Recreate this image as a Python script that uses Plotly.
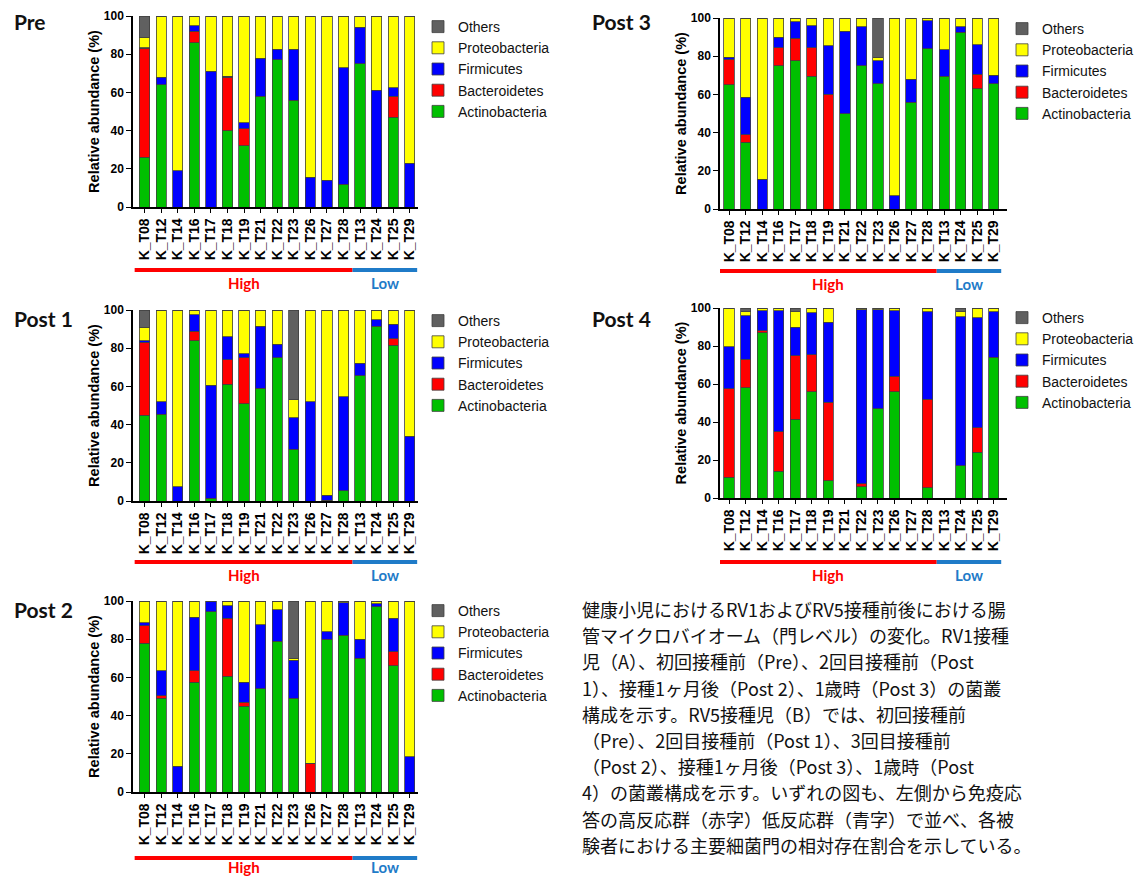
import plotly.graph_objects as go

# window and page offset (default body margin of the html page)
WIN_W, WIN_H = 1147, 878
OX, OY = 8, 8
FW, FH = WIN_W - OX, WIN_H - OY


def px(x):
    return (x - OX) / FW


def py(y):
    return 1 - (y - OY) / FH


subjects = ["K_T08", "K_T12", "K_T14", "K_T16", "K_T17", "K_T18", "K_T19", "K_T21",
            "K_T22", "K_T23", "K_T26", "K_T27", "K_T28", "K_T13", "K_T24", "K_T25", "K_T29"]
phyla = ["Actinobacteria", "Bacteroidetes", "Firmicutes", "Proteobacteria", "Others"]
phylum_colors = ["#00C000", "#FF0000", "#0000FF", "#FFFF00", "#606060"]
panel_names = ["Pre", "Post 1", "Post 2", "Post 3", "Post 4"]
group_names = ["High", "Low"]

# ---- Pre ----
pre_actino = [26, 64, 0, 86, 0, 40, 32, 58, 77, 56, 0, 0, 12, 75, 0, 47, 0]
pre_bacter = [57, 0, 0, 6, 0, 28, 9, 0, 0, 0, 0, 0, 0, 0, 0, 11, 0]
pre_firmic = [0.5, 4, 19, 3, 71, 0.5, 3, 20, 5.5, 26.5, 15.5, 14, 61, 19, 61, 4.5, 23]
pre_proteo = [5.5, 32, 81, 5, 29, 31, 56, 22, 17, 17, 84.5, 86, 26.5, 6, 39, 37.5, 77]
pre_others = [11, 0, 0, 0, 0, 0.5, 0, 0, 0.5, 0.5, 0, 0, 0.5, 0, 0, 0, 0]

# ---- Post 1 ----
p1_actino = [45, 45.5, 0, 84, 1.5, 61, 51, 59, 75, 27, 0, 0.5, 5.5, 65.5, 91.5, 81.5, 0]
p1_bacter = [38, 0, 0, 5, 0, 13, 24, 0, 0, 0, 0, 0, 0, 0, 0, 3.5, 0]
p1_firmic = [1, 6.5, 7.5, 8.5, 59, 12, 2, 32.5, 7, 16.5, 52, 2.5, 49, 6.5, 3.5, 7.5, 34]
p1_proteo = [7, 48, 92.5, 2.5, 39.5, 14, 23, 8.5, 18, 9.5, 48, 97, 45.5, 28, 5, 7.5, 66]
p1_others = [9, 0, 0, 0, 0, 0, 0, 0, 0, 47, 0, 0, 0, 0, 0, 0, 0]

# ---- Post 2 ----
p2_actino = [78, 49, 0, 57.5, 94.5, 60.5, 45, 54, 79, 49, 0, 80, 82, 70, 97, 66, 0]
p2_bacter = [9, 1.5, 0, 6, 0, 30.5, 2, 0, 0, 0, 15, 0, 0, 0, 0, 7.5, 0]
p2_firmic = [1.5, 13, 13.5, 28, 5, 6.5, 10.5, 33.5, 16.5, 20, 0, 4, 17, 10, 1.5, 17.5, 18.5]
p2_proteo = [11.5, 36.5, 86.5, 8.5, 0.5, 2.5, 42.5, 12.5, 4.5, 1, 85, 16, 1, 20, 1.5, 9, 81.5]
p2_others = [0, 0, 0, 0, 0, 0, 0, 0, 0, 30, 0, 0, 0, 0, 0, 0, 0]

# ---- Post 3 ----
p3_actino = [65, 35, 0, 75, 77.5, 69.5, 0, 50, 75, 65.5, 0, 56, 84, 69.5, 92.5, 63, 65.5]
p3_bacter = [13.5, 4, 0, 9.5, 12, 15, 60, 0, 0, 0, 0, 0, 0, 0, 0, 7.5, 0]
p3_firmic = [1, 19.5, 15.5, 5.5, 8.5, 11.5, 25.5, 43, 20.5, 12, 7, 12, 14.5, 14, 3, 15.5, 4.5]
p3_proteo = [20.5, 41.5, 84.5, 10, 2, 4, 14.5, 7, 4.5, 2, 93, 32, 1.5, 16.5, 4.5, 14, 30]
p3_others = [0, 0, 0, 0, 0, 0, 0, 0, 0, 20.5, 0, 0, 0, 0, 0, 0, 0]

# ---- Post 4 ----
p4_actino = [11, 58, 87, 14, 41.5, 56, 9, 0, 6, 47, 56, 0, 5.5, 0, 17, 24, 74]
p4_bacter = [46.5, 15, 1, 21, 33.5, 19.5, 41.5, 0, 1.5, 0, 8, 0, 46.5, 0, 0, 13, 0]
p4_firmic = [22, 23, 10.5, 63.5, 15, 22, 42, 0, 91.5, 52, 34.5, 0, 46, 0, 78.5, 58, 24]
p4_proteo = [20.5, 2, 1, 1, 8, 2.5, 7.5, 0, 0.5, 1, 1, 0, 1.5, 0, 2.5, 5, 2]
p4_others = [0, 2, 0.5, 0.5, 2, 0, 0, 0, 0.5, 0, 0.5, 0, 0.5, 0, 2, 0, 0]

panel_data = [
    [pre_actino, pre_bacter, pre_firmic, pre_proteo, pre_others],
    [p1_actino, p1_bacter, p1_firmic, p1_proteo, p1_others],
    [p2_actino, p2_bacter, p2_firmic, p2_proteo, p2_others],
    [p3_actino, p3_bacter, p3_firmic, p3_proteo, p3_others],
    [p4_actino, p4_bacter, p4_firmic, p4_proteo, p4_others],
]

caption_lines = [
    "健康小児におけるRV1およびRV5接種前後における腸",
    "管マイクロバイオーム（門レベル）の変化。RV1接種",
    "児（A）、初回接種前（Pre）、2回目接種前（Post",
    "1）、接種1ヶ月後（Post 2）、1歳時（Post 3）の菌叢",
    "構成を示す。RV5接種児（B）では、初回接種前",
    "（Pre）、2回目接種前（Post 1）、3回目接種前",
    "（Post 2）、接種1ヶ月後（Post 3）、1歳時（Post",
    "4）の菌叢構成を示す。いずれの図も、左側から免疫応",
    "答の高反応群（赤字）低反応群（青字）で並べ、各被",
    "験者における主要細菌門の相対存在割合を示している。",
]

# layout geometry (window pixels)
geom = [
    dict(xd=(133, 418), yd=(16, 207), xr=(-0.7, 16.5), lg=(418, 11), tt=(12, 22), ly=270, gy=283),
    dict(xd=(133, 418), yd=(310, 501), xr=(-0.7, 16.5), lg=(418, 305), tt=(12, 318), ly=562, gy=575),
    dict(xd=(133, 418), yd=(601, 792), xr=(-0.7, 16.5), lg=(418, 595), tt=(12, 609), ly=858, gy=867),
    dict(xd=(720, 1007), yd=(18, 209), xr=(-0.55, 16.8), lg=(1002, 13), tt=(590, 22), ly=271, gy=284),
    dict(xd=(720, 1007), yd=(308, 498), xr=(-0.55, 16.8), lg=(1002, 302), tt=(590, 318), ly=562, gy=575),
]

FONT = "Liberation Sans"
fig = go.Figure()
shapes = []
annotations = []
layout = dict(
    width=FW, height=FH, margin=dict(l=0, r=0, t=0, b=0, autoexpand=False),
    paper_bgcolor="white", plot_bgcolor="white",
    barmode="stack", showlegend=True,
    font=dict(family=FONT, color="#111111"),
)

for i, (pname, pdata, g) in enumerate(zip(panel_names, panel_data, geom)):
    ax = "" if i == 0 else str(i + 1)
    lg = "legend" + ax
    for ph, vals, col in zip(phyla, pdata, phylum_colors):
        fig.add_trace(go.Bar(
            x=subjects, y=vals, name=ph,
            marker=dict(color=col, line=dict(color="#404040", width=0.8)),
            width=0.62, xaxis="x" + ax, yaxis="y" + ax, legend=lg,
            showlegend=True,
        ))
    layout["xaxis" + ax] = dict(
        domain=[px(g["xd"][0]), px(g["xd"][1])], anchor="y" + ax,
        type="category", range=list(g["xr"]),
        tickmode="array", tickvals=subjects, ticktext=subjects,
        showline=True, linecolor="black", linewidth=1.5,
        ticks="outside", ticklen=4, tickwidth=1.2, tickcolor="black",
        tickangle=-90, tickfont=dict(family=FONT, size=14, weight="bold", color="black"),
        showgrid=False, zeroline=False, automargin=False,
    )
    layout["yaxis" + ax] = dict(
        domain=[py(g["yd"][1]), py(g["yd"][0])], anchor="x" + ax,
        range=[0, 100], tickvals=[0, 20, 40, 60, 80, 100],
        showline=True, linecolor="black", linewidth=1.5,
        ticks="outside", ticklen=5, tickwidth=1.2, tickcolor="black",
        tickfont=dict(family=FONT, size=12, weight="bold", color="black"),
        title=dict(text="Relative abundance (%)", standoff=1,
                   font=dict(family=FONT, size=14.5, weight="bold", color="black")),
        showgrid=False, zeroline=False, automargin=False,
    )
    layout[lg] = dict(
        x=px(g["lg"][0]), y=py(g["lg"][1]), xanchor="left", yanchor="top",
        traceorder="reversed", bgcolor="rgba(0,0,0,0)",
        font=dict(family=FONT, size=14, color="#111111"),
    )
    shapes.append(dict(type="line", xref="x" + ax, yref="paper",
                       x0=-0.6, x1=12.55, y0=py(g["ly"]), y1=py(g["ly"]),
                       line=dict(color="#FF0000", width=4)))
    shapes.append(dict(type="line", xref="x" + ax, yref="paper",
                       x0=12.55, x1=16.45, y0=py(g["ly"]), y1=py(g["ly"]),
                       line=dict(color="#1F7BC8", width=4)))
    annotations.append(dict(text=group_names[0], xref="x" + ax, yref="paper", x=6, y=py(g["gy"]),
                            showarrow=False, xanchor="center", yanchor="middle",
                            font=dict(family="Lato", size=15, weight="bold", color="#FF0000")))
    annotations.append(dict(text=group_names[1], xref="x" + ax, yref="paper", x=14.5, y=py(g["gy"]),
                            showarrow=False, xanchor="center", yanchor="middle",
                            font=dict(family="Lato", size=15, weight="bold", color="#1F7BC8")))
    annotations.append(dict(text=pname, xref="paper", yref="paper", x=px(g["tt"][0]), y=py(g["tt"][1]),
                            showarrow=False, xanchor="left", yanchor="middle",
                            font=dict(family="Lato", size=21, weight="bold", color="#111111")))

for k, line in enumerate(caption_lines):
    annotations.append(dict(text=line, xref="paper", yref="paper",
                            x=px(580), y=py(609 + k * 26.2), showarrow=False,
                            xanchor="left", yanchor="middle", align="left",
                            font=dict(family="Noto Sans CJK JP", size=18, color="#111111")))

layout["shapes"] = shapes
layout["annotations"] = annotations
fig.update_layout(**layout)
fig.write_html("out.html")
